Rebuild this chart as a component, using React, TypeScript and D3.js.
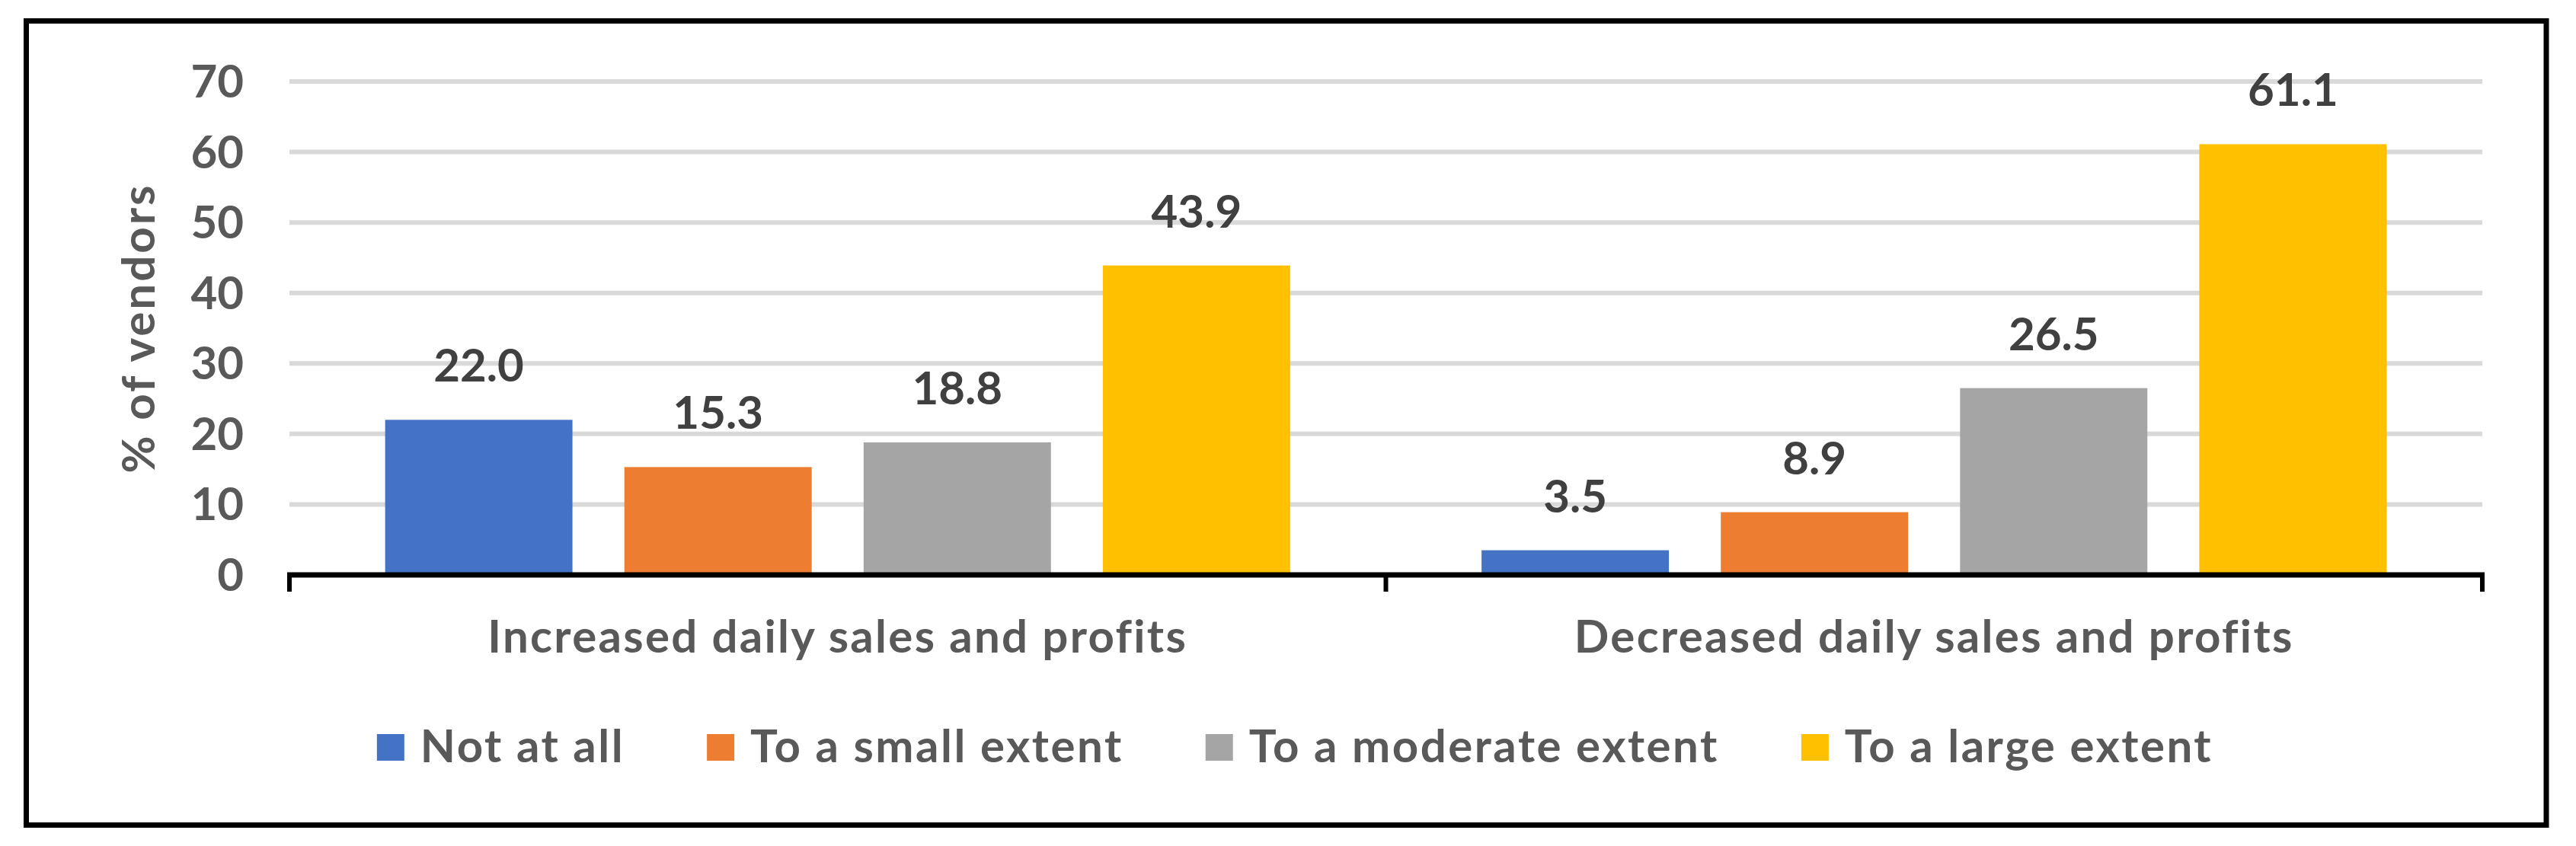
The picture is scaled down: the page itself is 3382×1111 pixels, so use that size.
import { useRef, useEffect } from "react";
import * as d3 from "d3";

const groups = ["Increased daily sales and profits", "Decreased daily sales and profits"];
const series = ["Not at all", "To a small extent", "To a moderate extent", "To a large extent"];
const colors = ["#4472C4", "#ED7D31", "#A5A5A5", "#FFC000"];
const increased = [22.0, 15.3, 18.8, 43.9];
const decreased = [3.5, 8.9, 26.5, 61.1];
const yTicks = [0, 10, 20, 30, 40, 50, 60, 70];

const width = 3382;
const height = 1111;
const font = "Lato, 'Open Sans', sans-serif";

export default function App() {
  const ref = useRef<SVGSVGElement | null>(null);

  useEffect(() => {
    const svg = d3
      .select(ref.current)
      .attr("width", width)
      .attr("height", height)
      .attr("viewBox", `0 0 ${width} ${height}`)
      .style("font-family", font)
      .style("font-weight", 700);

    svg.selectAll("*").remove();

    const rows = groups.map((g, i) => ({
      group: g,
      values: series.map((s, j) => ({ series: s, value: i === 0 ? increased[j] : decreased[j], color: colors[j] })),
    }));

    const x0 = d3.scaleBand<string>().domain(groups).range([380, 3259]);
    const x1 = d3
      .scaleBand<string>()
      .domain(series)
      .range([0, x0.bandwidth()])
      .paddingInner(0.217)
      .paddingOuter(0.4);
    const y = d3.scaleLinear().domain([0, 70]).range([755, 107]);

    // frame
    svg
      .append("rect")
      .attr("x", 34.5)
      .attr("y", 27.5)
      .attr("width", 3308.5)
      .attr("height", 1056)
      .attr("fill", "#fff")
      .attr("stroke", "#000")
      .attr("stroke-width", 7);

    // gridlines
    svg
      .append("g")
      .selectAll("line")
      .data(yTicks.filter((t) => t > 0))
      .join("line")
      .attr("x1", 380)
      .attr("x2", 3259)
      .attr("y1", (d) => y(d))
      .attr("y2", (d) => y(d))
      .attr("stroke", "#d9d9d9")
      .attr("stroke-width", 6);

    // y tick labels
    svg
      .append("g")
      .selectAll("text")
      .data(yTicks)
      .join("text")
      .attr("x", 320)
      .attr("y", (d) => y(d))
      .attr("dy", "0.35em")
      .attr("text-anchor", "end")
      .attr("fill", "#595959")
      .attr("font-size", 60)
      .text((d) => d);

    // y title
    svg
      .append("text")
      .attr("transform", `translate(203,${(y(0) + y(70)) / 2}) rotate(-90)`)
      .attr("text-anchor", "middle")
      .attr("fill", "#595959")
      .attr("font-size", 60)
      .attr("letter-spacing", 3)
      .text("% of vendors");

    // bars
    const g = svg
      .append("g")
      .selectAll("g")
      .data(rows)
      .join("g")
      .attr("transform", (d) => `translate(${x0(d.group)},0)`);

    g.selectAll("rect")
      .data((d) => d.values)
      .join("rect")
      .attr("x", (d) => x1(d.series)!)
      .attr("y", (d) => y(d.value))
      .attr("width", x1.bandwidth())
      .attr("height", (d) => y(0) - y(d.value))
      .attr("fill", (d) => d.color);

    g.selectAll("text")
      .data((d) => d.values)
      .join("text")
      .attr("x", (d) => x1(d.series)! + x1.bandwidth() / 2)
      .attr("y", (d) => y(d.value) - 50)
      .attr("text-anchor", "middle")
      .attr("fill", "#404040")
      .attr("font-size", 60)
      .text((d) => d3.format(".1f")(d.value));

    // x axis
    svg
      .append("line")
      .attr("x1", 377)
      .attr("x2", 3262)
      .attr("y1", y(0))
      .attr("y2", y(0))
      .attr("stroke", "#000")
      .attr("stroke-width", 7);

    const tickXs = [...groups.map((d) => x0(d)!), 3259];
    svg
      .append("g")
      .selectAll("line")
      .data(tickXs)
      .join("line")
      .attr("x1", (d) => d)
      .attr("x2", (d) => d)
      .attr("y1", y(0))
      .attr("y2", y(0) + 22)
      .attr("stroke", "#000")
      .attr("stroke-width", 6);

    svg
      .append("g")
      .selectAll("text")
      .data(groups)
      .join("text")
      .attr("x", (d) => x0(d)! + x0.bandwidth() / 2)
      .attr("y", 857)
      .attr("text-anchor", "middle")
      .attr("fill", "#595959")
      .attr("font-size", 60)
      .attr("letter-spacing", 2.3)
      .text((d) => d);

    // legend
    const legend = svg.append("g");
    const items = legend
      .selectAll("g")
      .data(series)
      .join("g");
    items
      .append("rect")
      .attr("width", 36)
      .attr("height", 35)
      .attr("y", 964)
      .attr("fill", (_, i) => colors[i]);
    items
      .append("text")
      .attr("x", 57)
      .attr("y", 1001)
      .attr("fill", "#595959")
      .attr("font-size", 60)
      .attr("letter-spacing", 2.5)
      .text((d) => d);

    let cursor = 0;
    const offsets: number[] = [];
    items.each(function () {
      const t = d3.select(this).select("text").node() as SVGTextElement;
      offsets.push(cursor);
      cursor += 57 + t.getComputedTextLength() + 108;
    });
    const total = cursor - 108;
    const start = 1700 - total / 2;
    items.attr("transform", (_, i) => `translate(${start + offsets[i]},0)`);
  }, []);

  return <svg ref={ref} style={{ position: "absolute", left: 0, top: 0, display: "block" }} />;
}
